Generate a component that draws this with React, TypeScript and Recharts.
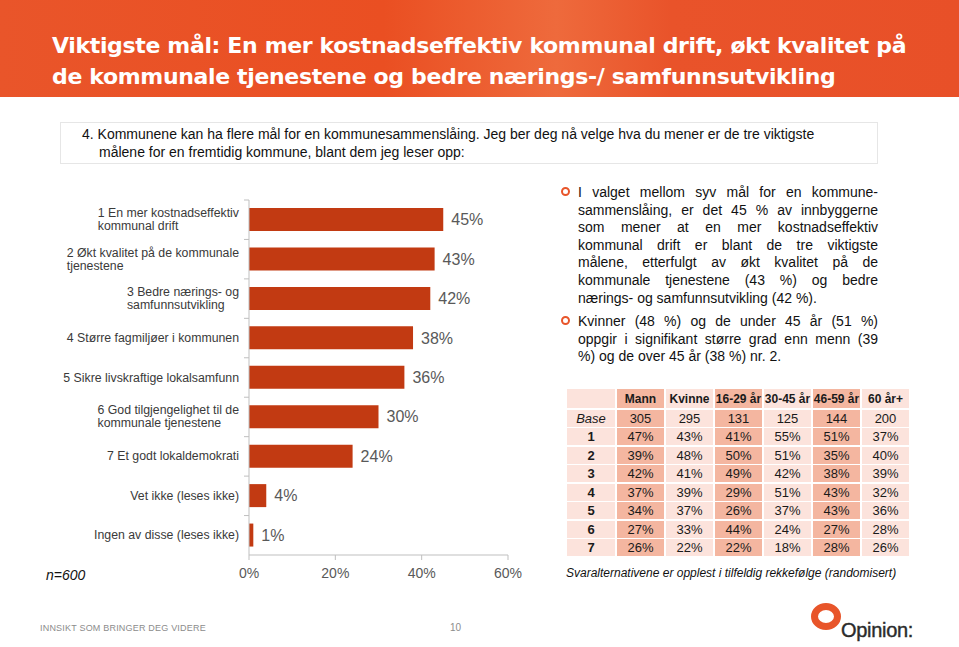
import React from 'react';
import { BarChart, Bar, XAxis, YAxis, LabelList } from 'recharts';

// bar chart data
const goalLabels = [
  '1 En mer kostnadseffektiv\nkommunal drift',
  '2 Økt kvalitet på de kommunale\ntjenestene',
  '3 Bedre nærings- og\nsamfunnsutvikling',
  '4 Større fagmiljøer i kommunen',
  '5 Sikre livskraftige lokalsamfunn',
  '6 God tilgjengelighet til de\nkommunale tjenestene',
  '7 Et godt lokaldemokrati',
  'Vet ikke (leses ikke)',
  'Ingen av disse (leses ikke)',
];
const goalShares = [45, 43, 42, 38, 36, 30, 24, 4, 1];
const xTicks = [0, 20, 40, 60];

// table data
const tableHeaders = ['Mann', 'Kvinne', '16-29 år', '30-45 år', '46-59 år', '60 år+'];
const highlightCols = [true, false, true, false, true, false];
const tableRowLabels = ['Base', '1', '2', '3', '4', '5', '6', '7'];
const baseRow = ['305', '295', '131', '125', '144', '200'];
const goalByGroup = [
  [47, 43, 41, 55, 51, 37],
  [39, 48, 50, 51, 35, 40],
  [42, 41, 49, 42, 38, 39],
  [37, 39, 29, 51, 43, 32],
  [34, 37, 26, 37, 43, 36],
  [27, 33, 44, 24, 27, 28],
  [26, 22, 22, 18, 28, 26],
];

const bullet1 = [
  'I valget mellom syv mål for en kommune-',
  'sammenslåing, er det 45 % av innbyggerne',
  'som mener at en mer kostnadseffektiv',
  'kommunal drift er blant de tre viktigste',
  'målene, etterfulgt av økt kvalitet på de',
  'kommunale tjenestene (43 %) og bedre',
  'nærings- og samfunnsutvikling (42 %).',
];
const bullet2 = [
  'Kvinner (48 %) og de under 45 år (51 %)',
  'oppgir i signifikant større grad enn menn (39',
  '%) og de over 45 år (38 %) nr. 2.',
];

const data = goalLabels.map((name, i) => ({ name, value: goalShares[i] }));

const FONT = "'Liberation Sans', Arial, sans-serif";
const BAR_COLOR = '#c23a12';
const ORANGE = '#e8552a';

const PLOT_TOP = 10;
const PLOT_H = 355;
const band = PLOT_H / goalLabels.length;
const LABEL_SIZE = 12.3;

let ctx: CanvasRenderingContext2D | null = null;
function textWidth(s: string, font: string) {
  if (!ctx) ctx = document.createElement('canvas').getContext('2d');
  if (!ctx) return s.length * 6;
  ctx.font = font;
  return ctx.measureText(s).width;
}

const GoalTick = (props: any) => {
  const { x, y, payload } = props;
  const lines: string[] = String(payload.value).split('\n');
  const font = `${LABEL_SIZE}px ${FONT}`;
  const w = Math.max(...lines.map((l) => textWidth(l, font)));
  const lh = 13;
  const startX = x - 10 - w;
  const y0 = y - ((lines.length - 1) * lh) / 2;
  return (
    <g>
      <line x1={x - 5} x2={x} y1={y - band / 2} y2={y - band / 2} stroke="#bfbfbf" />
      <text x={startX} y={y0} fontSize={LABEL_SIZE} fill="#3a3a3a" fontFamily={FONT} dominantBaseline="central">
        {lines.map((l, i) => (
          <tspan key={i} x={startX} y={y0 + i * lh}>
            {l}
          </tspan>
        ))}
      </text>
    </g>
  );
};

const Bullet = ({ top }: { top: number }) => (
  <div
    style={{
      position: 'absolute',
      left: 561,
      top,
      width: 5,
      height: 5,
      borderRadius: '50%',
      border: `2.5px solid ${ORANGE}`,
    }}
  />
);

const Paragraph = ({ lines, top }: { lines: string[]; top: number }) => (
  <div style={{ position: 'absolute', left: 578, top, width: 300, fontFamily: FONT, fontSize: 14, color: '#111' }}>
    {lines.map((l, i) => (
      <div
        key={i}
        style={{
          height: 17.6,
          lineHeight: '17.6px',
          whiteSpace: 'nowrap',
          textAlign: i < lines.length - 1 ? 'justify' : 'left',
          textAlignLast: i < lines.length - 1 ? 'justify' : 'left',
        }}
      >
        {l}
      </div>
    ))}
  </div>
);

const SALMON = '#f4b6a0';
const PINK = '#fce3dc';

function Table() {
  const cols = '48px repeat(6, 47px)';
  const cell = (content: React.ReactNode, bg: string, extra: React.CSSProperties = {}, key?: string) => (
    <div
      key={key}
      style={{
        background: bg,
        display: 'flex',
        alignItems: 'center',
        justifyContent: 'center',
        whiteSpace: 'nowrap',
        ...extra,
      }}
    >
      {content}
    </div>
  );
  const rows = [baseRow, ...goalByGroup.map((r) => r.map((v) => `${v}%`))];
  return (
    <div
      style={{
        position: 'absolute',
        left: 567,
        top: 389,
        display: 'grid',
        gridTemplateColumns: cols,
        gridTemplateRows: '19px repeat(8, 17px)',
        columnGap: 2,
        rowGap: 1.5,
        fontFamily: FONT,
        fontSize: 13,
        color: '#1a1a1a',
      }}
    >
      {cell('', PINK, {}, 'h0')}
      {tableHeaders.map((h, j) =>
        cell(h, highlightCols[j] ? SALMON : PINK, { fontWeight: 'bold', fontSize: 12 }, 'h' + (j + 1))
      )}
      {rows.map((r, i) => (
        <React.Fragment key={i}>
          {cell(tableRowLabels[i], PINK, i === 0 ? { fontStyle: 'italic' } : { fontWeight: 'bold' })}
          {r.map((v, j) => cell(v, highlightCols[j] ? SALMON : PINK, {}, 'c' + j))}
        </React.Fragment>
      ))}
    </div>
  );
}

export default function App() {
  return (
    <div
      style={{
        position: 'absolute',
        left: 0,
        top: 0,
        width: 959,
        height: 647,
        overflow: 'hidden',
        background: '#fff',
        fontFamily: FONT,
      }}
    >
      {/* header */}
      <div
        style={{
          position: 'absolute',
          left: 0,
          top: 0,
          width: 959,
          height: 97,
          background: 'linear-gradient(90deg, #e9552a 0%, #ea4f22 40%, #ee6a3c 58%, #e9532a 70%, #e85028 100%)',
        }}
      />
      <div
        style={{
          position: 'absolute',
          left: 52,
          top: 30,
          width: 907,
          color: '#fff',
          fontFamily: "'DejaVu Sans', sans-serif",
          fontWeight: 'bold',
          fontSize: 22,
          lineHeight: '31px',
          letterSpacing: -0.35,
          whiteSpace: 'nowrap',
        }}
      >
        <div>Viktigste mål: En mer kostnadseffektiv kommunal drift, økt kvalitet på</div>
        <div>de kommunale tjenestene og bedre nærings-/ samfunnsutvikling</div>
      </div>

      {/* question box */}
      <div
        style={{
          position: 'absolute',
          left: 60,
          top: 122,
          width: 818,
          height: 42,
          border: '1px solid #e6e6e6',
          boxSizing: 'border-box',
        }}
      />
      <div style={{ position: 'absolute', left: 82, top: 125, fontSize: 14, lineHeight: '18px', color: '#111', whiteSpace: 'nowrap' }}>
        <div>4. Kommunene kan ha flere mål for en kommunesammenslåing. Jeg ber deg nå velge hva du mener er de tre viktigste</div>
        <div style={{ paddingLeft: 17 }}>målene for en fremtidig kommune, blant dem jeg leser opp:</div>
      </div>

      {/* bar chart */}
      <div style={{ position: 'absolute', left: 0, top: 190 }}>
        <BarChart
          width={530}
          height={400}
          data={data}
          layout="vertical"
          margin={{ top: PLOT_TOP, right: 22, bottom: 5, left: 0 }}
        >
          <XAxis
            type="number"
            domain={[0, 60]}
            ticks={xTicks}
            tickFormatter={(v) => `${v}%`}
            height={30}
            tickSize={5}
            tickMargin={8}
            stroke="#bfbfbf"
            tick={{ fill: '#595959', fontSize: 14, fontFamily: FONT }}
          />
          <YAxis
            type="category"
            dataKey="name"
            width={249}
            stroke="#bfbfbf"
            tickLine={false}
            tickSize={0}
            tickMargin={0}
            interval={0}
            tick={<GoalTick />}
          />
          <Bar dataKey="value" fill={BAR_COLOR} barSize={23} isAnimationActive={false}>
            <LabelList
              dataKey="value"
              position="right"
              offset={8}
              formatter={(v: any) => `${v}%`}
              fill="#595959"
              fontSize={16}
              fontFamily={FONT}
            />
          </Bar>
        </BarChart>
      </div>
      <div style={{ position: 'absolute', left: 46, top: 567, fontSize: 14, fontStyle: 'italic', color: '#111' }}>n=600</div>

      {/* commentary */}
      <Bullet top={187} />
      <Paragraph lines={bullet1} top={184} />
      <Bullet top={316} />
      <Paragraph lines={bullet2} top={313} />

      <Table />
      <div
        style={{ position: 'absolute', left: 566, top: 566, fontSize: 12, fontStyle: 'italic', color: '#111', whiteSpace: 'nowrap' }}
      >
        Svaralternativene er opplest i tilfeldig rekkefølge (randomisert)
      </div>

      {/* footer */}
      <div style={{ position: 'absolute', left: 40, top: 623, fontSize: 9, color: '#8c8c8c', letterSpacing: 0.2 }}>
        INNSIKT SOM BRINGER DEG VIDERE
      </div>
      <div style={{ position: 'absolute', left: 450, top: 622, fontSize: 10, color: '#8c8c8c' }}>10</div>
      <div
        style={{
          position: 'absolute',
          left: 811,
          top: 603,
          width: 30,
          height: 27,
          borderRadius: '50%',
          border: `7px solid ${ORANGE}`,
          boxSizing: 'border-box',
        }}
      />
      <div
        style={{
          position: 'absolute',
          left: 841,
          top: 619,
          fontSize: 20,
          color: '#2b2b2b',
          letterSpacing: -0.3,
          WebkitTextStroke: '0.4px #2b2b2b',
        }}
      >
        Opinion:
      </div>
    </div>
  );
}
